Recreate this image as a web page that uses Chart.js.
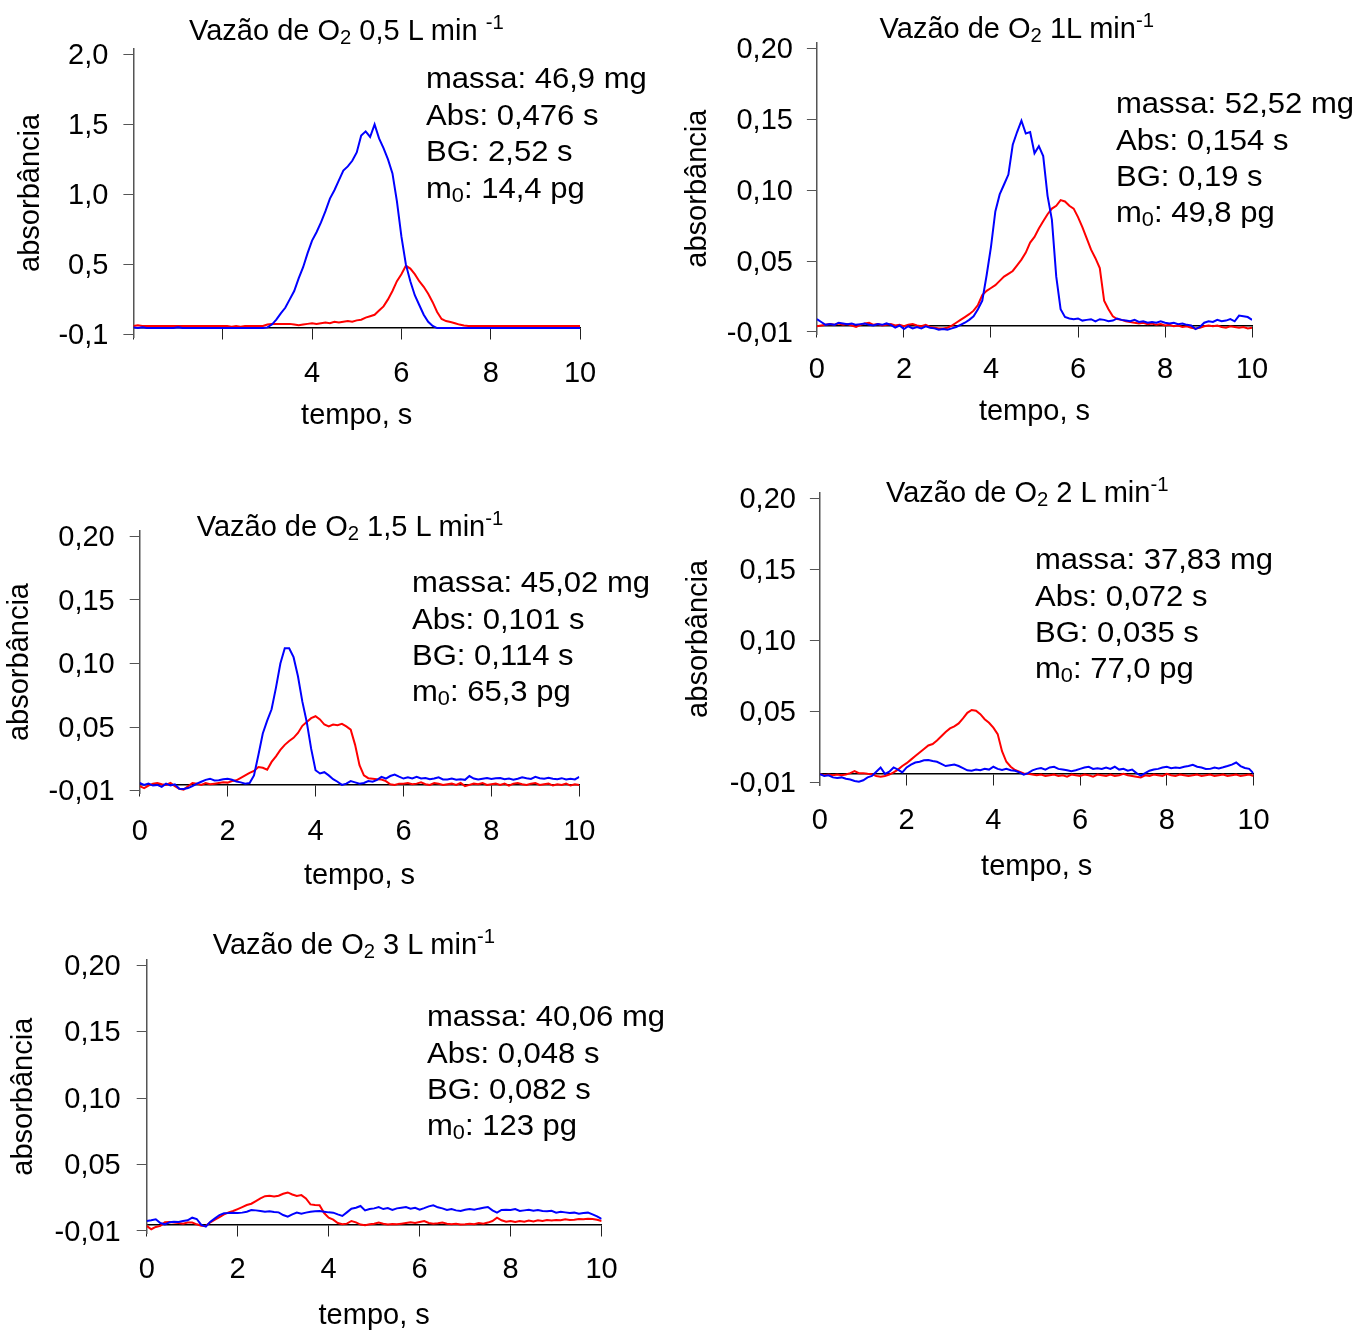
<!DOCTYPE html>
<html lang="pt">
<head>
<meta charset="utf-8">
<title>Vazão de O2</title>
<script src="https://cdn.jsdelivr.net/npm/chart.js@4.4.1/dist/chart.umd.min.js"></script>
<style>
  body { margin: 0; background: #fff; }
  #folha { position: relative; width: 1372px; height: 1334px; overflow: hidden; font-family: 'Liberation Sans', Arial, sans-serif; color: #000; }
  canvas { position: absolute; }
  .titulo, .info { position: absolute; white-space: nowrap; transform-origin: left center; }
  .titulo { font-size: 29px; line-height: 29px; }
  .info { font-size: 29px; line-height: 36.4px; transform: scaleX(1.07); }
  sub, sup { font-size: 0.7em; line-height: 0; }
  sub { vertical-align: -0.22em; }
  sup { vertical-align: 0.55em; }
</style>
</head>
<body>
<div id="folha"></div>
<script>
// sinais lidos a cada 0,1 s, de 0 a 10 s
const passo = 0.1;

// O2 0,5 L/min
const azul05 = [
  0.05,0.045,0.05,0.045,0.045,0.045,0.045,0.045,0.045,0.045,
  0.05,0.045,0.045,0.045,0.045,0.045,0.045,0.045,0.045,0.045,
  0.045,0.045,0.045,0.045,0.045,0.045,0.045,0.045,0.045,0.045,
  0.05,0.07,0.105,0.15,0.19,0.25,0.31,0.40,0.48,0.58,
  0.67,0.73,0.80,0.88,0.97,1.03,1.10,1.17,1.20,1.24,
  1.30,1.42,1.45,1.41,1.50,1.40,1.33,1.25,1.15,0.95,
  0.70,0.50,0.38,0.28,0.21,0.14,0.09,0.06,0.045,0.045,
  0.045,0.045,0.045,0.045,0.045,0.045,0.045,0.045,0.045,0.045,
  0.045,0.045,0.045,0.045,0.045,0.045,0.045,0.045,0.045,0.045,
  0.045,0.045,0.045,0.045,0.045,0.045,0.045,0.045,0.045,0.045,0.045
];
const verm05 = [
  0.06,0.065,0.06,0.06,0.06,0.06,0.06,0.06,0.06,0.06,
  0.06,0.06,0.06,0.06,0.06,0.06,0.06,0.06,0.06,0.06,
  0.06,0.06,0.055,0.06,0.055,0.06,0.06,0.06,0.06,0.06,
  0.07,0.075,0.075,0.075,0.075,0.075,0.07,0.065,0.07,0.075,
  0.08,0.075,0.08,0.085,0.08,0.09,0.085,0.09,0.095,0.09,
  0.10,0.105,0.12,0.13,0.14,0.17,0.20,0.25,0.31,0.38,
  0.43,0.49,0.47,0.43,0.38,0.34,0.29,0.23,0.16,0.11,
  0.095,0.088,0.08,0.07,0.064,0.06,0.06,0.06,0.06,0.06,
  0.06,0.06,0.06,0.06,0.06,0.06,0.06,0.06,0.06,0.06,
  0.06,0.06,0.06,0.06,0.06,0.06,0.06,0.06,0.06,0.06,0.06
];

// O2 1 L/min
const azul1 = [
  0.009,0.007,0.005,0.0055,0.005,0.0065,0.006,0.0055,0.006,0.005,
  0.0055,0.006,0.005,0.0045,0.0055,0.005,0.006,0.005,0.003,0.0045,
  0.002,0.004,0.0025,0.0035,0.0025,0.004,0.003,0.0025,0.0015,0.002,
  0.0015,0.0025,0.0035,0.005,0.0065,0.0085,0.011,0.016,0.022,0.04,
  0.06,0.085,0.097,0.104,0.111,0.132,0.141,0.149,0.140,0.141,
  0.126,0.131,0.124,0.096,0.079,0.039,0.016,0.0105,0.0095,0.009,
  0.0095,0.008,0.0085,0.009,0.0075,0.009,0.0085,0.0075,0.008,0.0095,
  0.0085,0.008,0.0075,0.0085,0.007,0.0075,0.0065,0.007,0.0065,0.0075,
  0.0065,0.006,0.0065,0.0055,0.006,0.005,0.0045,0.002,0.0035,0.0065,
  0.0075,0.007,0.0085,0.0075,0.008,0.009,0.0075,0.0115,0.011,0.0105,0.0085
];
const verm1 = [
  0.004,0.0045,0.005,0.0055,0.005,0.006,0.005,0.0055,0.0045,0.0035,
  0.005,0.006,0.0065,0.005,0.0055,0.0045,0.005,0.0055,0.0045,0.005,
  0.004,0.005,0.0055,0.0045,0.004,0.005,0.0035,0.003,0.0025,0.0025,
  0.003,0.0045,0.0065,0.0085,0.0105,0.0125,0.015,0.019,0.026,0.029,
  0.031,0.033,0.036,0.039,0.041,0.043,0.047,0.051,0.056,0.063,
  0.067,0.073,0.078,0.083,0.087,0.089,0.093,0.092,0.089,0.087,
  0.081,0.074,0.066,0.058,0.052,0.045,0.022,0.016,0.011,0.009,
  0.0085,0.0075,0.007,0.0065,0.006,0.0065,0.0055,0.006,0.005,0.0055,
  0.0045,0.005,0.004,0.0045,0.0035,0.004,0.003,0.0025,0.003,0.004,
  0.0045,0.004,0.0045,0.0035,0.003,0.004,0.0035,0.003,0.0035,0.0025,0.003
];

// O2 1,5 L/min
const azul15 = [
  0.006,0.0045,0.0055,0.004,0.0045,0.003,0.0055,0.004,0.005,0.0015,
  0.0013,0.002,0.0035,0.0055,0.007,0.0085,0.0094,0.008,0.0081,0.009,
  0.0094,0.0085,0.0071,0.0065,0.0055,0.006,0.012,0.028,0.045,0.055,
  0.064,0.081,0.1,0.112,0.112,0.105,0.09,0.07,0.054,0.033,
  0.016,0.0135,0.0145,0.012,0.009,0.007,0.0045,0.0055,0.0075,0.0065,
  0.0055,0.006,0.0075,0.007,0.0085,0.0108,0.0095,0.0115,0.0127,0.011,
  0.0095,0.0105,0.0095,0.0108,0.0095,0.01,0.009,0.0095,0.0105,0.0088,
  0.0087,0.0095,0.0085,0.009,0.0085,0.0115,0.0095,0.0088,0.0094,0.01,
  0.0092,0.0098,0.01,0.009,0.0095,0.0085,0.0094,0.0105,0.0098,0.0092,
  0.0108,0.0098,0.0094,0.0102,0.0094,0.009,0.0098,0.0087,0.0093,0.0088,0.0108
];
const verm15 = [
  0.0035,0.002,0.004,0.0055,0.006,0.005,0.0045,0.006,0.0035,0.0015,
  0.0008,0.0035,0.006,0.0055,0.0045,0.006,0.005,0.0055,0.006,0.0065,
  0.0063,0.0075,0.0081,0.01,0.012,0.014,0.0155,0.0185,0.018,0.0165,
  0.0226,0.027,0.032,0.036,0.039,0.0415,0.0454,0.051,0.054,0.057,
  0.0585,0.056,0.052,0.0505,0.052,0.0515,0.0525,0.0505,0.048,0.036,
  0.02,0.012,0.0098,0.0094,0.009,0.0087,0.0075,0.005,0.0045,0.0055,
  0.0055,0.006,0.005,0.0055,0.0065,0.005,0.0045,0.006,0.0055,0.0045,
  0.005,0.0055,0.0045,0.006,0.0035,0.0045,0.0055,0.005,0.006,0.0045,
  0.005,0.0055,0.0045,0.0055,0.004,0.0055,0.006,0.005,0.0045,0.0055,
  0.006,0.0045,0.005,0.0055,0.004,0.005,0.0045,0.0055,0.004,0.005,0.0045
];

// O2 2 L/min
const azul2 = [
  0.0058,0.0045,0.005,0.0035,0.003,0.0035,0.0025,0.002,0.001,0.0005,
  0.0015,0.0035,0.0045,0.0075,0.0105,0.006,0.0075,0.0105,0.009,0.007,
  0.0105,0.0125,0.014,0.0145,0.0155,0.0158,0.015,0.0145,0.013,0.0115,
  0.012,0.0125,0.0115,0.01,0.0085,0.0082,0.009,0.0085,0.0095,0.009,
  0.011,0.0095,0.0087,0.0095,0.0085,0.0082,0.007,0.0054,0.0065,0.0085,
  0.0095,0.0101,0.009,0.0105,0.011,0.0095,0.009,0.0085,0.0078,0.0085,
  0.0095,0.0105,0.011,0.0095,0.01,0.0094,0.0105,0.0095,0.011,0.009,
  0.0095,0.0082,0.009,0.0065,0.0047,0.0065,0.0082,0.009,0.0095,0.0105,
  0.011,0.01,0.0105,0.0101,0.011,0.0115,0.0124,0.011,0.0105,0.0094,
  0.0095,0.0105,0.0098,0.0106,0.0115,0.0125,0.014,0.0115,0.0101,0.0095,0.0063
];
const verm2 = [
  0.0058,0.005,0.0055,0.005,0.0055,0.005,0.0055,0.0065,0.008,0.0065,
  0.0065,0.006,0.0058,0.0045,0.004,0.0045,0.0055,0.007,0.009,0.0115,
  0.0135,0.016,0.0185,0.021,0.0235,0.026,0.027,0.0295,0.0325,0.0355,
  0.038,0.0395,0.0415,0.045,0.049,0.051,0.0505,0.048,0.0445,0.042,
  0.0385,0.034,0.022,0.0145,0.011,0.0087,0.0075,0.0063,0.006,0.0055,
  0.005,0.0055,0.0045,0.005,0.0055,0.0045,0.005,0.004,0.0055,0.005,
  0.0045,0.0055,0.005,0.004,0.0055,0.005,0.0045,0.0055,0.0045,0.005,
  0.006,0.005,0.0045,0.004,0.0035,0.005,0.0045,0.0055,0.005,0.0045,
  0.006,0.005,0.0045,0.0055,0.005,0.0045,0.005,0.0055,0.0045,0.005,
  0.0055,0.0045,0.005,0.0055,0.0045,0.005,0.0055,0.0045,0.005,0.0055,0.0045
];

// O2 3 L/min
const azul3 = [
  0.0075,0.008,0.0088,0.006,0.005,0.0065,0.007,0.0068,0.0075,0.008,
  0.01,0.009,0.0045,0.0033,0.007,0.0095,0.012,0.0133,0.0135,0.0138,
  0.0135,0.0138,0.0145,0.0158,0.0155,0.015,0.0145,0.0148,0.0142,0.014,
  0.012,0.0107,0.0125,0.0138,0.013,0.0138,0.0145,0.0148,0.015,0.0145,
  0.014,0.0138,0.0125,0.0113,0.014,0.0168,0.0175,0.0188,0.0155,0.0165,
  0.017,0.018,0.0165,0.0172,0.0158,0.017,0.0175,0.018,0.0168,0.0175,
  0.016,0.0172,0.0185,0.0193,0.0178,0.017,0.0158,0.0165,0.0155,0.015,
  0.016,0.0165,0.016,0.0168,0.0175,0.018,0.0155,0.0138,0.0158,0.016,
  0.0158,0.0165,0.015,0.0155,0.016,0.0152,0.0158,0.015,0.0148,0.0152,
  0.0138,0.0145,0.014,0.0135,0.0138,0.013,0.0135,0.0138,0.0125,0.011,0.009
];
const verm3 = [
  0.0038,0.0013,0.003,0.0038,0.0065,0.0068,0.0063,0.006,0.0055,0.0063,
  0.0063,0.005,0.004,0.0038,0.0065,0.0085,0.0105,0.0125,0.014,0.015,
  0.0165,0.018,0.0195,0.0205,0.0225,0.0245,0.0262,0.0265,0.026,0.0265,
  0.028,0.029,0.0275,0.0264,0.027,0.0245,0.02,0.0195,0.0193,0.0135,
  0.01,0.0085,0.006,0.005,0.0055,0.0075,0.0065,0.0048,0.0043,0.005,
  0.0055,0.0063,0.0055,0.0048,0.0052,0.005,0.0055,0.006,0.0065,0.006,
  0.0068,0.0075,0.006,0.0055,0.0058,0.0063,0.0055,0.005,0.0055,0.0048,
  0.005,0.0055,0.005,0.006,0.0055,0.0063,0.0075,0.01,0.008,0.007,
  0.0075,0.0068,0.0075,0.007,0.0078,0.0072,0.008,0.0075,0.0082,0.0078,
  0.0083,0.008,0.0088,0.0082,0.0085,0.009,0.0088,0.0092,0.009,0.0085,0.0075
];

const vazoes = ['0,5 L min ', '1L min', '1,5 L min', '2 L min', '3 L min'];
const massas = ['46,9', '52,52', '45,02', '37,83', '40,06'];
const absInt = ['0,476', '0,154', '0,101', '0,072', '0,048'];
const bgInt = ['2,52', '0,19', '0,114', '0,035', '0,082'];
const m0 = ['14,4', '49,8', '65,3', '77,0', '123'];
const sinais = [[azul05, verm05], [azul1, verm1], [azul15, verm15], [azul2, verm2], [azul3, verm3]];

// posicao de cada painel na folha (px): top/bottom = marcas do maior valor e do zero
const paineis = [
  { left: 134, right: 580, top: 54.5, bottom: 334.5, yMax: 2, yStep: 0.5, dec: 1, zero: '-0,1', eixoX: 0.048,
    xLabelY: 374, xTitleY: 416, yTitleX: 32, yLabelRight: 109, semRotulo: [0, 2],
    tituloX: 189, tituloY: 30, infoX: 425.7, infoY: 78.3 },
  { left: 817, right: 1252, top: 49, bottom: 333, yMax: 0.2, yStep: 0.05, dec: 2, zero: '-0,01', eixoX: 0.0047,
    xLabelY: 371.5, xTitleY: 413, yTitleX: 698.5, yLabelRight: 793, semRotulo: [],
    tituloX: 879.6, tituloY: 28, infoX: 1116, infoY: 103 },
  { left: 140, right: 580, top: 537, bottom: 791, yMax: 0.2, yStep: 0.05, dec: 2, zero: '-0,01', eixoX: 0.0047,
    xLabelY: 832, xTitleY: 876, yTitleX: 20.7, yLabelRight: 115, semRotulo: [],
    tituloX: 196.7, tituloY: 526, infoX: 412.4, infoY: 582 },
  { left: 820, right: 1253, top: 499, bottom: 783, yMax: 0.2, yStep: 0.05, dec: 2, zero: '-0,01', eixoX: 0.0058,
    xLabelY: 821.5, xTitleY: 868, yTitleX: 699.5, yLabelRight: 796, semRotulo: [],
    tituloX: 886, tituloY: 492.5, infoX: 1035, infoY: 559 },
  { left: 147, right: 602, top: 966, bottom: 1232, yMax: 0.2, yStep: 0.05, dec: 2, zero: '-0,01', eixoX: 0.005,
    xLabelY: 1271, xTitleY: 1317, yTitleX: 24.7, yLabelRight: 121, semRotulo: [],
    tituloX: 212.7, tituloY: 944, infoX: 427, infoY: 1016 }
];

// o eixo y passa um pouco da ultima marca, em cima e embaixo
const sobraTopo = 6, sobraBase = 3;

const FONTE = 29;
const fonte = { family: "'Liberation Sans', Arial, sans-serif", size: FONTE };
Chart.defaults.color = '#000';
Chart.defaults.font = fonte;

const folha = document.getElementById('folha');

function pontos(serie) {
  return serie.map((v, i) => ({ x: i * passo, y: v }));
}

function configPainel(p, n, g) {
  const lh = FONTE * 1.2;
  const tickX = 11, tickY = 10;
  return {
    type: 'line',
    data: {
      datasets: [
        { data: pontos(sinais[n][0]), borderColor: '#0000ff' },
        { data: pontos(sinais[n][1]), borderColor: '#ff0000' }
      ]
    },
    options: {
      responsive: false,
      maintainAspectRatio: false,
      animation: false,
      events: [],
      layout: { padding: { left: 0, top: g.padTop, right: g.padRight, bottom: g.altX } },
      plugins: { legend: { display: false }, tooltip: { enabled: false } },
      elements: { point: { radius: 0 }, line: { borderWidth: 2, tension: 0 } },
      scales: {
        x: {
          type: 'linear', min: 0, max: 10,
          position: { y: p.eixoX },
          afterFit: s => { s.height = g.altX; },
          ticks: {
            stepSize: 2, maxRotation: 0, autoSkip: false,
            padding: p.xLabelY - g.eixoPx - tickX - lh / 2,
            callback: v => p.semRotulo.includes(v) ? '' : String(v)
          },
          grid: { drawOnChartArea: false, tickLength: tickX, color: '#222' },
          border: { color: '#000', width: 1.5 },
          title: { display: true, text: 'tempo, s', padding: 0 }
        },
        y: {
          min: g.yMin, max: g.yMaxEixo,
          afterFit: s => { s.width = g.largY; },
          afterBuildTicks: s => {
            s.ticks = [];
            for (let k = 0; k * p.yStep <= p.yMax + 1e-9; k++) s.ticks.push({ value: +(k * p.yStep).toFixed(6) });
          },
          ticks: {
            labelOffset: 1.7,
            padding: p.left - tickY - p.yLabelRight,
            callback: v => v === 0 ? p.zero : v.toFixed(p.dec).replace('.', ',')
          },
          grid: { drawOnChartArea: false, tickLength: tickY, color: '#555' },
          border: { color: '#555', width: 1.5 },
          title: { display: true, text: 'absorbância', padding: 0 }
        }
      }
    }
  };
}

function criarPainel(p, n) {
  const lh = FONTE * 1.2;
  const pxUn = (p.bottom - p.top) / p.yMax;
  const g = {
    eixoPx: p.bottom - p.eixoX * pxUn,
    yMin: -sobraBase / pxUn,
    yMaxEixo: p.yMax + sobraTopo / pxUn,
    largY: p.left - (p.yTitleX - lh / 2),
    padTop: 20, padRight: 32
  };
  g.altX = p.xTitleY - g.eixoPx + lh / 2;
  // area do grafico desejada
  const alvo = { l: p.left, t: p.top - sobraTopo, r: p.right, b: p.bottom + sobraBase };

  const cv = document.createElement('canvas');
  folha.appendChild(cv);
  let cl = alvo.l - g.largY, ct = alvo.t - g.padTop;
  let w = alvo.r + g.padRight - cl, h = alvo.b + g.altX - ct;
  let chart = null;

  // ajusta a tela ate a area do grafico cair no lugar certo
  for (let k = 0; k < 3; k++) {
    if (chart) chart.destroy();
    cv.width = Math.round(w);
    cv.height = Math.round(h);
    cv.style.left = Math.round(cl) + 'px';
    cv.style.top = Math.round(ct) + 'px';
    chart = new Chart(cv, configPainel(p, n, g));
    const a = chart.chartArea;
    const dl = alvo.l - (Math.round(cl) + a.left), dt = alvo.t - (Math.round(ct) + a.top);
    const dr = alvo.r - (Math.round(cl) + a.right), db = alvo.b - (Math.round(ct) + a.bottom);
    if (Math.abs(dl) + Math.abs(dt) + Math.abs(dr) + Math.abs(db) < 1) break;
    cl += dl; ct += dt;
    w += dr - dl; h += db - dt;
  }

  const tit = document.createElement('div');
  tit.className = 'titulo';
  tit.innerHTML = 'Vazão de O<sub>2</sub> ' + vazoes[n] + '<sup>-1</sup>';
  tit.style.left = p.tituloX + 'px';
  tit.style.top = (p.tituloY - FONTE / 2 + 0.3) + 'px';
  folha.appendChild(tit);

  const info = document.createElement('div');
  info.className = 'info';
  info.innerHTML = 'massa: ' + massas[n] + ' mg<br>Abs: ' + absInt[n] + ' s<br>BG: ' + bgInt[n] +
    ' s<br>m<sub>0</sub>: ' + m0[n] + ' pg';
  info.style.left = p.infoX + 'px';
  info.style.top = (p.infoY - 36.4 / 2 + 0.3) + 'px';
  folha.appendChild(info);
}

paineis.forEach(criarPainel);
</script>
</body>
</html>
